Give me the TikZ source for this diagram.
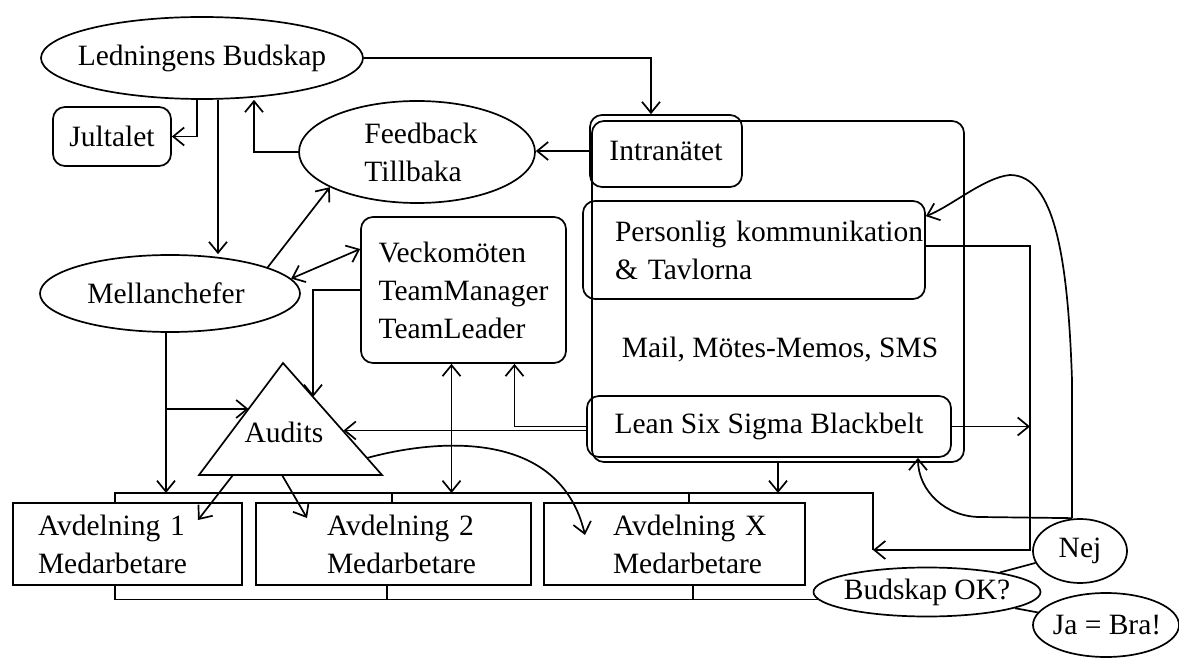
\documentclass[tikz,border=0pt]{standalone}
\usepackage{fontspec}
\setmainfont{Liberation Serif}
\usetikzlibrary{arrows.meta,shapes.geometric,calc}
\begin{document}
\begin{tikzpicture}[x=1pt,y=-1pt,
  line width=1.7pt,
  >={Straight Barb[length=11pt,width=18pt]},
  every node/.style={font=\fontsize{29.5}{38}\selectfont},
  ell/.style={draw,ellipse,inner sep=0pt},
  rbox/.style={draw,rectangle,rounded corners=12pt,inner sep=0pt},
  sbox/.style={draw,rectangle,inner sep=0pt,align=left},
  txt/.style={inner sep=0pt,align=left},
]
\useasboundingbox (0,0) rectangle (1179,660);
\fill[white] (0,0) rectangle (1179,660);

% ---- boxes on the right
\node[rbox, minimum width=372pt, minimum height=341pt] (outer) at (778,291.5) {};
\node[rbox, minimum width=152pt, minimum height=72pt] (IN) at (666,151) {Intranätet};
\node[rbox, minimum width=342pt, minimum height=98pt, text width=278pt, inner xsep=32pt, align=left] (PK) at (754,250) {\mbox{Personlig kommunikation}\\\& Tavlorna};
\node[txt] (MM) at (780,350) {Mail, Mötes-Memos, SMS};
\node[rbox, minimum width=364pt, minimum height=61pt] (LS) at (769,426.5) {Lean Six Sigma Blackbelt};

% ---- middle / left
\node[rbox, minimum width=205pt, minimum height=146pt, align=left] (VM) at (463.5,290) {Veckomöten\\TeamManager\\TeamLeader};
\node[rbox, minimum width=118pt, minimum height=59pt] (JT) at (112,136.5) {Jultalet};

\node[ell, minimum width=322pt, minimum height=82pt] (LB) at (202,58) {};
\node[txt] (LBt) at (LB.center) {Ledningens Budskap};
\node[ell, minimum width=236pt, minimum height=102pt] (FB) at (417,152) {};
\node[txt] (FBt) at (421,152) {Feedback\\Tillbaka};
\node[ell, minimum width=260pt, minimum height=77pt] (MC) at (170,293.5) {};
\node[txt] (MCt) at (166,293) {Mellanchefer};

% ---- Audits triangle
\coordinate (AUa) at (283,363);
\coordinate (AUbl) at (199,475);
\coordinate (AUbr) at (382,475);
\draw (AUa) -- (AUbl) -- (AUbr) -- cycle;
\node[txt] (AU) at (284,432) {Audits};

% ---- departments
\node[sbox, minimum width=229pt, minimum height=82pt, text width=179pt, inner xsep=25pt] (A1) at (127.5,544) {\mbox{Avdelning 1}\\Medarbetare};
\node[sbox, minimum width=275pt, minimum height=82pt, text width=133pt, inner xsep=71pt] (A2) at (393.5,544) {\mbox{Avdelning 2}\\Medarbetare};
\node[sbox, minimum width=261pt, minimum height=82pt, text width=123pt, inner xsep=69pt] (AX) at (674.5,544) {\mbox{Avdelning X}\\Medarbetare};

% ---- decision
\node[ell, minimum width=227pt, minimum height=49pt] (BO) at (927,592) {};
\node[txt] (BOt) at (927,592) {Budskap OK?};
\node[ell, minimum width=94pt, minimum height=64pt] (NJ) at (1080,551) {};
\node[txt] (NJt0) at (1080,551) {Nej};
\node[ell, minimum width=146pt, minimum height=64pt] (JA) at (1106,625) {};
\node[txt] (JAt) at (1107,625) {Ja = Bra!};

% ---- helper coordinates
\coordinate (t1) at (115,493);
\coordinate (t2) at (392,493);
\coordinate (t3) at (689,493);
\coordinate (tR) at (873,493);
\coordinate (tRb) at (873,550);
\coordinate (b2) at (387,599.5);
\coordinate (b3) at (693,599.5);
\coordinate (r2) at (1030,550);
\coordinate (m1) at (166,409);
\coordinate (AUl) at (248.5,409);
\coordinate (AUv) at (313,397);
\coordinate (AUlean) at (343.5,430.5);
\coordinate (AUc) at (367,458);
\coordinate (AXin) at (585,535);
\coordinate (AUb1) at (233,475);
\coordinate (A1in) at (198,520);
\coordinate (AUb2) at (282,475);
\coordinate (A2in) at (307,518);
\coordinate (NJc) at (1072,380);
\coordinate (Nl) at (980,517);
\coordinate (NJt) at ([xshift=-8pt]NJ.north);
\coordinate (LBs1) at ([xshift=16pt]LB.south);
\coordinate (MCs) at ([xshift=-4pt]MC.south);
\coordinate (VMs) at ([xshift=-12pt]VM.south);
\coordinate (VMs2) at ([xshift=51pt]VM.south);
\coordinate (LSw2) at ([yshift=-4pt]LS.west);
\coordinate (PKe) at ([yshift=4pt]PK.east);
\coordinate (PKa) at ([yshift=-16pt]PK.north east);
\coordinate (LSb) at ([xshift=149pt]LS.south);

% ---- brackets around departments
\draw (A1.north -| t1) -- (t1) -- (tR) -- (tRb);
\draw (t2) -- (A2.north -| t2);
\draw (t3) -- (AX.north -| t3);
\draw (A1.south -| t1) |- (BO.184);
\draw (A2.south -| b2) -- (b2);
\draw (AX.south -| b3) -- (b3);

% ---- connectors
\draw[->] (LB.east) -| ([xshift=-15pt]IN.north);
\draw[->] ([xshift=-5pt]LB.south) |- (JT.east);
\draw[->] (LBs1) -- (LBs1 |- MC.north);
\draw[->] (FB.west) -| ([xshift=52pt]LB.south);
\draw[->] (IN.west) -- (IN.west -| FB.east);
\draw[->] (MC.15) -- (FB.202);
\draw[<->] (MC.7) -- ([yshift=41pt]VM.west);
\draw[->] (VM.west) -| (AUv);
\draw[->] (MCs) -- (MCs |- t1);
\draw[->] (m1) -- (AUl);
\draw[->] (AUb1) -- (A1in);
\draw[->] (AUb2) -- (A2in);
\draw[->] (AUc) .. controls (440,438) and (560,430) .. (AXin);
\draw[<->] (VMs) -- (VMs |- t1);
\draw[->] (LS.west) -| (VMs2);
\draw[->] (LSw2) -- (LSw2 -| AUlean);
\draw[->] (outer.south) -- (outer.south |- t1);
\draw[->] (LS.east) -- (LS.east -| r2);
\draw[->] (PKe) -| (r2) -- (tRb);
\draw (BO) -- (NJ);
\draw (BO) -- (JA);
\draw[->] (NJt) -- (NJc) .. controls (1068,260) and (1055,175) .. (1010,175) .. controls (985,177) and (950,207) .. (PKa);
\draw[->] (NJt) -- (Nl) to[out=180,in=-90] (LSb);
\end{tikzpicture}
\end{document}
